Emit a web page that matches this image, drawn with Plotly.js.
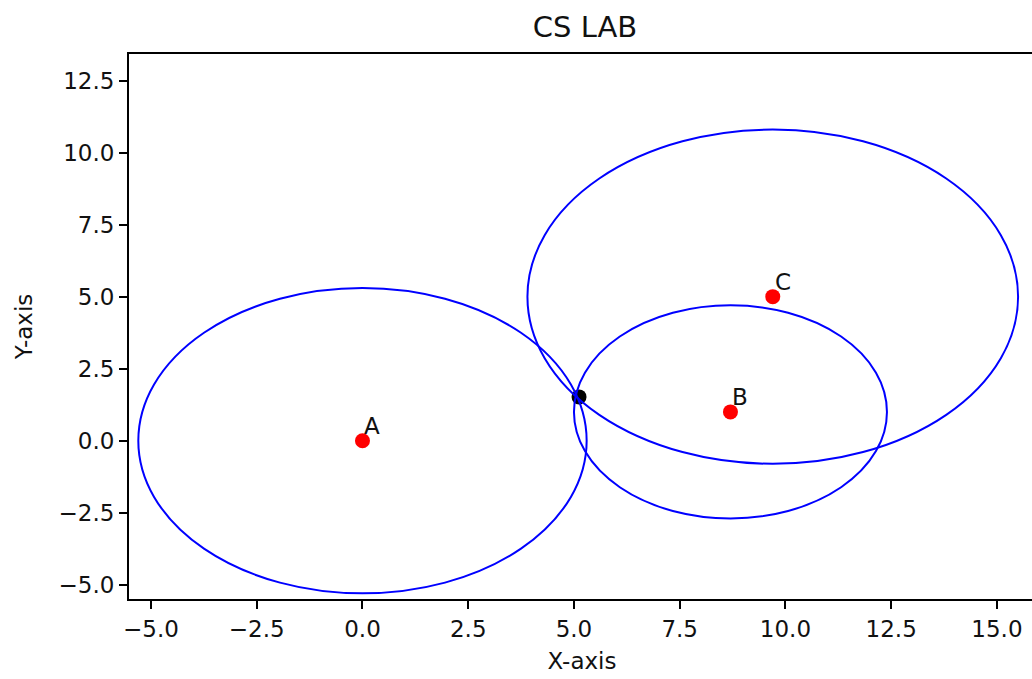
<!DOCTYPE html>
<html>
<head>
<meta charset="utf-8">
<script src="https://cdn.plot.ly/plotly-3.0.1.min.js"></script>
<style>
html,body{margin:0;padding:0;overflow:hidden;background:#fff;}
#chart{width:1040px;height:679px;}
</style>
</head>
<body>
<div id="chart"></div>
<script>
// Data
const names = ['A', 'B', 'C'];
const centerX = [0, 8.7, 9.7];
const centerY = [0, 1, 5];
const radii = [5.3, 3.7, 5.8];
const estimateX = [5.12];
const estimateY = [1.52];

const FONT = 'DejaVu Sans, sans-serif';

const traces = [
  {
    x: centerX, y: centerY, mode: 'markers', type: 'scatter',
    marker: {color: '#ff0000', size: 15}, showlegend: false, hoverinfo: 'skip'
  },
  {
    x: estimateX, y: estimateY, mode: 'markers', type: 'scatter',
    marker: {color: '#000000', size: 15}, showlegend: false, hoverinfo: 'skip'
  }
];

const shapes = centerX.map((cx, i) => ({
  type: 'circle', xref: 'x', yref: 'y', layer: 'above',
  x0: cx - radii[i], x1: cx + radii[i],
  y0: centerY[i] - radii[i], y1: centerY[i] + radii[i],
  line: {color: '#0000ff', width: 2}
}));

const annotations = names.map((n, i) => ({
  x: centerX[i], y: centerY[i], xref: 'x', yref: 'y', text: n,
  showarrow: false, xanchor: 'left', yanchor: 'bottom',
  font: {family: FONT, size: 23, color: '#111'}
}));

const axisCommon = {
  showgrid: false, zeroline: false, showline: true, mirror: true,
  linecolor: '#000', linewidth: 2,
  ticks: 'outside', ticklen: 8, tickwidth: 2, tickcolor: '#000',
  tickfont: {family: FONT, size: 23, color: '#111'},
  tickformat: '.1f', dtick: 2.5, tick0: 0
};

const layout = {
  width: 1040, height: 679,
  margin: {l: 129, r: 5, t: 54, b: 80},
  paper_bgcolor: '#fff', plot_bgcolor: '#fff',
  title: {text: 'CS LAB', font: {family: FONT, size: 29, color: '#111'},
          x: 0.5625, xanchor: 'center', yref: 'container', y: 0.96, yanchor: 'middle'},
  xaxis: Object.assign({}, axisCommon, {
    range: [-5.52, 15.90],
    title: {text: 'X-axis', font: {family: FONT, size: 23, color: '#111'}, standoff: 12}
  }),
  yaxis: Object.assign({}, axisCommon, {
    range: [-5.496, 13.425],
    title: {text: 'Y-axis', font: {family: FONT, size: 23, color: '#111'}, standoff: 19}
  }),
  shapes: shapes,
  annotations: annotations
};

Plotly.newPlot('chart', traces, layout, {staticPlot: true, displayModeBar: false});
</script>
</body>
</html>
